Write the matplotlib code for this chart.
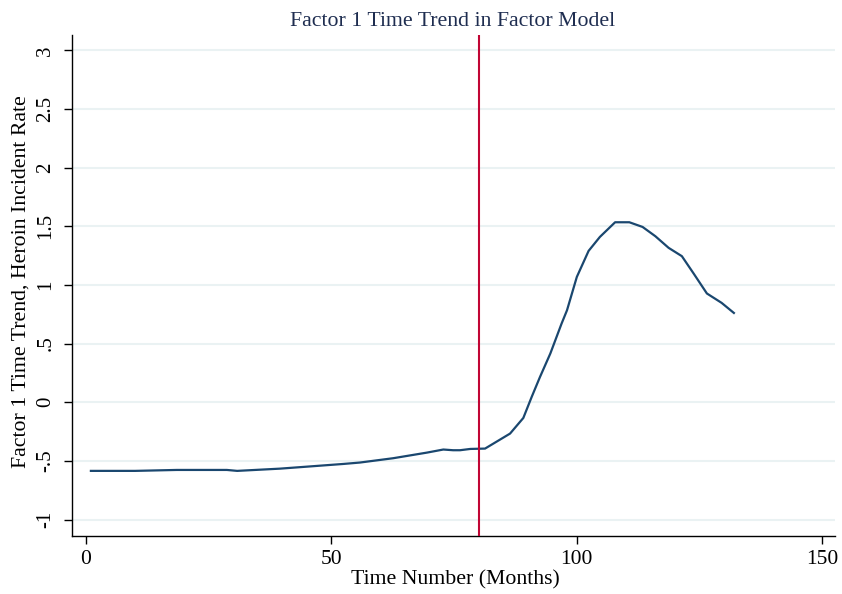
import numpy as np
import matplotlib
matplotlib.use("Agg")
import matplotlib.pyplot as plt

plt.rcParams["font.family"] = ["Liberation Serif", "DejaVu Serif"]

# factor 1 time trend (month number, value)
months = [1, 5, 10, 18.5, 28.7, 30.8, 39.5, 45, 52.4, 55.8, 62.6, 69.5, 72.8, 74.8,
          76.2, 78.3, 81.3, 86.4, 89.1, 90.8, 92.5, 94.6, 96.9, 98.0, 100, 102.4,
          104.7, 107.8, 110.7, 113.4, 116, 118.7, 121.4, 123.8, 126.5, 129.5, 132]
trend = [-0.585, -0.585, -0.585, -0.577, -0.577, -0.585, -0.566, -0.549, -0.526, -0.514,
         -0.477, -0.429, -0.403, -0.409, -0.409, -0.398, -0.395, -0.267, -0.134, 0.045,
         0.216, 0.415, 0.671, 0.784, 1.068, 1.290, 1.409, 1.534, 1.534, 1.494, 1.415,
         1.316, 1.245, 1.097, 0.927, 0.847, 0.761]
treat_month = 80

yticks = [-1, -0.5, 0, 0.5, 1, 1.5, 2, 2.5, 3]
ytick_labels = ["-1", "-.5", "0", ".5", "1", "1.5", "2", "2.5", "3"]
xticks = [0, 50, 100, 150]

W, H = 842, 594
fig = plt.figure(figsize=(W / 100, H / 100), dpi=100)
ax = fig.add_axes([72 / W, 1 - 536 / H, (835 - 72) / W, (536 - 35) / H])

ax.set_xlim(-2.85, 152.6)
ax.set_ylim(-1.14, 3.13)

for y in yticks:
    ax.axhline(y, color="#eaf2f3", lw=1.5, zorder=0)

ax.plot(months, trend, color="#1a476f", lw=1.6, zorder=2)
ax.axvline(treat_month, color="#c10534", lw=1.5, zorder=3)

for s in ["top", "right"]:
    ax.spines[s].set_visible(False)
for s in ["left", "bottom"]:
    ax.spines[s].set_linewidth(1.0)
    ax.spines[s].set_color("black")

ax.set_yticks(yticks)
ax.set_yticklabels(ytick_labels, rotation=90, va="center", fontsize=15)
ax.set_xticks(xticks)
ax.set_xticklabels([str(t) for t in xticks], fontsize=15.5)
ax.tick_params(direction="out", length=6, width=1.0, color="black")
ax.tick_params(axis="x", pad=4)
ax.tick_params(axis="y", pad=6)

fig.text(453 / W, 1 - 21 / H, "Factor 1 Time Trend in Factor Model",
         ha="center", va="center", fontsize=15.7, color="#1e2d50")
fig.text(455 / W, 1 - 580 / H, "Time Number (Months)",
         ha="center", va="center", fontsize=15.7)
fig.text(21 / W, 1 - 282 / H, "Factor 1 Time Trend, Heroin Incident Rate",
         ha="center", va="center", rotation=90, fontsize=15.7)

fig.savefig("out.png", dpi=100)
